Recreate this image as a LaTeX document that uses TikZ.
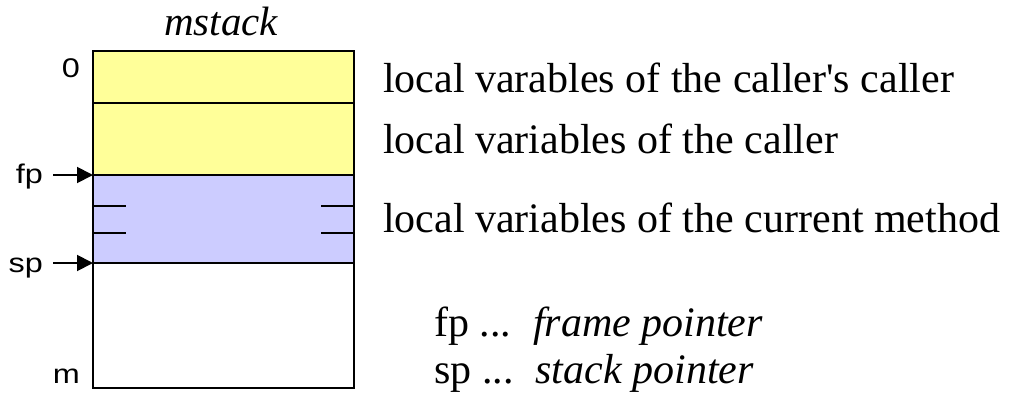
\documentclass[tikz,border=0pt]{standalone}
\usepackage{fontspec}
\usepackage{graphicx}
\setmainfont{Liberation Serif}
\newfontfamily\arialf{Liberation Sans}
\newcommand\widelab[1]{\scalebox{1.2}[1]{#1}}
\usetikzlibrary{arrows.meta}
\definecolor{yel}{HTML}{FFFF99}
\definecolor{blu}{HTML}{CCCCFF}
\begin{document}
\begin{tikzpicture}[x=1pt,y=-1pt,
  cell/.style={draw, line width=1.3pt, inner sep=0pt, outer sep=0pt, minimum width=261pt, anchor=north west},
  lab/.style={font=\arialf\fontsize{27}{32}\selectfont, inner sep=0pt, anchor=base east},
  txt/.style={font=\fontsize{42}{48}\selectfont, inner sep=0pt, anchor=base west},
  arr/.style={line width=1.9pt, -{Triangle[length=16pt,width=16pt]}},
  tick/.style={line width=1.3pt}]
\useasboundingbox (0,0) rectangle (1015,399);
\node[cell, fill=yel, minimum height=52pt] (c1) at (93,51) {};
\node[cell, fill=yel, minimum height=72pt] (c2) at (93,103) {};
\node[cell, fill=blu, minimum height=88pt] (c3) at (93,175) {};
\node[cell, fill=white, minimum height=125pt] (c4) at (93,263) {};
\foreach \yy in {206,233} {
  \draw[tick] (c3.west |- 0,\yy) -- ++(33,0);
  \draw[tick] (c3.east |- 0,\yy) -- ++(-33,0);
}
\node[font=\itshape\fontsize{41}{46}\selectfont, inner sep=0pt, anchor=base] (title) at (221,35) {mstack};
\node[lab] (zero) at (80,77) {\widelab{0}};
\node[lab] (fp) at (43,183) {\widelab{fp}};
\node[lab] (sp) at (43,272) {\widelab{sp}};
\node[lab] (m) at (80,383) {\widelab{m}};
\coordinate (fpa) at (53,175);
\coordinate (spa) at (53,263);
\draw[arr] (fpa) -- (c3.north west);
\draw[arr] (spa) -- (c4.north west);
\node[txt] (t1) at (383,92) {local varables of the caller\textquotesingle s caller};
\node[txt] (t2) at (383,153) {local variables of the caller};
\node[txt] (t3) at (383,232) {local variables of the current method};
\node[txt] (t4) at (434,336) {fp ...\hspace{22pt}\textit{frame pointer}};
\node[txt] (t5) at (434,383) {sp ...\hspace{22pt}\textit{stack pointer}};
\end{tikzpicture}
\end{document}
